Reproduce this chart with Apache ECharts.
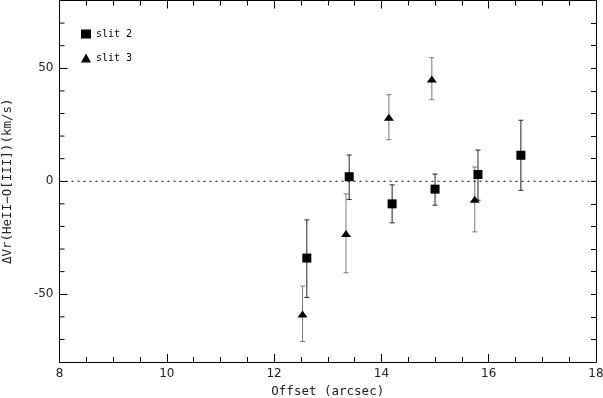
<!DOCTYPE html>
<html>
<head>
<meta charset="utf-8">
<script src="https://cdn.jsdelivr.net/npm/echarts@6/dist/echarts.min.js"></script>
<style>
  html, body { margin: 0; padding: 0; background: #fff; }
  #main { width: 603px; height: 398px; }
</style>
</head>
<body>
<div id="main"></div>
<script>
// slit 2 (squares)
var slit2X = [12.61, 13.40, 14.20, 15.00, 15.80, 16.60];
var slit2Y = [-34, 2, -10, -3.5, 3, 11.5];
var slit2Lo = [-51.4, -8.1, -18.4, -10.6, -8.4, -4];
var slit2Hi = [-17.1, 11.6, -1.6, 3.2, 13.8, 27];

// slit 3 (triangles)
var slit3X = [12.53, 13.34, 14.14, 14.94, 15.74];
var slit3Y = [-58.7, -23.1, 28.3, 45.3, -8.0];
var slit3Lo = [-70.9, -40.5, 18.4, 36.1, -22.4];
var slit3Hi = [-46.4, -5.6, 38.3, 54.7, 6.3];

var xTicks = [8, 10, 12, 14, 16, 18];
var yTicks = [-50, 0, 50];
var yMinor = [-70, -60, -40, -30, -20, -10, 10, 20, 30, 40, 60, 70];

function pts(xs, ys) {
  return xs.map(function (x, i) { return [x, ys[i]]; });
}
function bars(xs, lo, hi) {
  return xs.map(function (x, i) { return [x, lo[i], hi[i]]; });
}

function errBar(color) {
  return function (params, api) {
    var top = api.coord([api.value(0), api.value(2)]);
    var bot = api.coord([api.value(0), api.value(1)]);
    var h = 2.5;
    var st = { stroke: color, lineWidth: 1 };
    return {
      type: 'group',
      children: [
        { type: 'line', shape: { x1: top[0], y1: top[1], x2: bot[0], y2: bot[1] }, style: st },
        { type: 'line', shape: { x1: top[0] - h, y1: top[1], x2: top[0] + h, y2: top[1] }, style: st },
        { type: 'line', shape: { x1: bot[0] - h, y1: bot[1], x2: bot[0] + h, y2: bot[1] }, style: st }
      ]
    };
  };
}

var myChart = echarts.init(document.getElementById('main'));

var tickFont = { color: '#222', fontFamily: 'DejaVu Sans', fontSize: 12 };
var frameLine = { show: true, onZero: false, lineStyle: { color: '#000', width: 1 } };

var option = {
  animation: false,
  backgroundColor: '#fff',
  grid: { left: 59.5, right: 7, top: 0.5, bottom: 36, outerBoundsMode: 'none', containLabel: false },
  legend: {
    orient: 'vertical',
    left: 76,
    top: 24,
    itemWidth: 10,
    itemHeight: 9,
    itemGap: 14,
    data: [
      { name: 'slit 2', icon: 'rect', itemStyle: { color: '#000', opacity: 1 } },
      { name: 'slit 3', icon: 'triangle', itemStyle: { color: '#000', opacity: 1 } }
    ],
    textStyle: { fontFamily: 'DejaVu Sans Mono', fontSize: 10, color: '#000' }
  },
  xAxis: [
    {
      type: 'value', min: 8, max: 18, interval: 2,
      name: 'Offset (arcsec)', nameLocation: 'middle', nameGap: 15,
      nameTextStyle: { fontFamily: 'DejaVu Sans Mono', fontSize: 12.5, color: '#222' },
      axisLine: frameLine,
      axisTick: { inside: true, length: 8, lineStyle: { color: '#000' } },
      minorTick: { show: true, splitNumber: 4, length: 5, lineStyle: { color: '#000' } },
      axisLabel: Object.assign({ margin: 6, customValues: xTicks }, tickFont),
      splitLine: { show: false }
    },
    {
      type: 'value', min: 8, max: 18, interval: 2, position: 'top',
      axisLine: frameLine,
      axisTick: { inside: true, length: 8, lineStyle: { color: '#000' } },
      minorTick: { show: true, splitNumber: 4, length: 5, lineStyle: { color: '#000' } },
      axisLabel: { show: false },
      splitLine: { show: false }
    }
  ],
  yAxis: [
    {
      type: 'value', min: -80, max: 80, interval: 50,
      name: 'ΔVr(HeII−O[III])(km/s)', nameLocation: 'middle', nameGap: 45,
      nameTextStyle: { fontFamily: 'DejaVu Sans Mono', fontSize: 12.5, color: '#222' },
      axisLine: frameLine,
      axisTick: { inside: true, length: 8, customValues: yTicks, lineStyle: { color: '#000' } },
      minorTick: { show: false },
      axisLabel: Object.assign({ margin: 6, customValues: yTicks }, tickFont),
      splitLine: { show: false }
    },
    {
      type: 'value', min: -80, max: 80, interval: 10, position: 'right',
      axisLine: frameLine,
      axisTick: { inside: true, length: 5, lineStyle: { color: '#000' } },
      axisLabel: { show: false },
      splitLine: { show: false }
    }
  ],
  series: [
    {
      type: 'line',
      xAxisIndex: 0, yAxisIndex: 0,
      data: [[8, 0], [18, 0]],
      symbol: 'none',
      silent: true,
      lineStyle: { color: '#000', width: 1, type: [2, 4] }
    },
    {
      // minor ticks on the left axis
      type: 'custom',
      yAxisIndex: 1,
      data: yMinor.map(function (v) { return [8, v]; }),
      renderItem: function (params, api) {
        var p = api.coord([8, api.value(1)]);
        return { type: 'line', shape: { x1: p[0], y1: p[1], x2: p[0] + 5, y2: p[1] }, style: { stroke: '#000', lineWidth: 1 } };
      },
      silent: true
    },
    {
      type: 'custom',
      name: 'err3',
      data: bars(slit3X, slit3Lo, slit3Hi),
      renderItem: errBar('#777'),
      silent: true,
      z: 2
    },
    {
      type: 'custom',
      name: 'err2',
      data: bars(slit2X, slit2Lo, slit2Hi),
      renderItem: errBar('#222'),
      silent: true,
      z: 2
    },
    {
      name: 'slit 3',
      type: 'scatter',
      symbol: 'triangle',
      symbolSize: [10, 7],
      itemStyle: { color: '#000', opacity: 1 },
      data: pts(slit3X, slit3Y),
      z: 3
    },
    {
      name: 'slit 2',
      type: 'scatter',
      symbol: 'rect',
      symbolSize: 9,
      itemStyle: { color: '#000', opacity: 1 },
      data: pts(slit2X, slit2Y),
      z: 3
    }
  ]
};

myChart.setOption(option);
</script>
</body>
</html>
